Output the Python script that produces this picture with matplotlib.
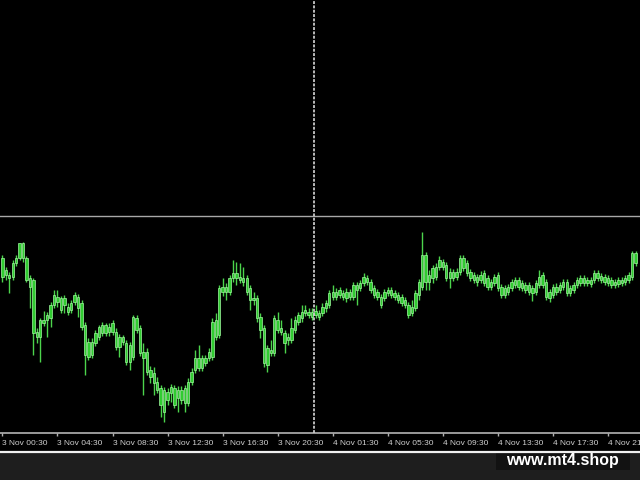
import numpy as np
import matplotlib
matplotlib.use("Agg")
import matplotlib.pyplot as plt
from matplotlib.patches import Rectangle
from matplotlib.lines import Line2D

# M15 candles, prices in points
body_hi = [182, 170, 165, 177, 182, 197, 197, 182, 162, 160, 108, 120, 120, 125, 135, 145, 143, 142, 142, 133,
           137, 145, 143, 137, 115, 98, 98, 107, 113, 115, 115, 113, 117, 108, 103, 103, 97, 95, 123, 122,
           112, 88, 88, 70, 67, 58, 52, 50, 48, 53, 52, 50, 50, 52, 58, 68, 82, 82, 82, 82,
           88, 118, 120, 152, 153, 153, 162, 167, 167, 163, 162, 162, 152, 142, 142, 123, 112, 92, 90, 122,
           120, 112, 107, 103, 112, 120, 125, 128, 130, 128, 128, 129, 127, 133, 137, 147, 148, 148, 150, 147,
           148, 148, 155, 155, 157, 163, 162, 158, 152, 148, 143, 148, 150, 150, 147, 145, 143, 140, 135, 133,
           147, 158, 185, 185, 165, 172, 173, 180, 178, 175, 168, 168, 168, 182, 182, 177, 168, 165, 163, 165,
           167, 162, 158, 163, 165, 153, 152, 153, 158, 160, 160, 157, 155, 155, 152, 157, 163, 165, 158, 148,
           153, 153, 155, 158, 158, 152, 155, 160, 162, 162, 160, 160, 167, 167, 164, 163, 162, 160, 158, 160,
           160, 162, 165, 187, 187]
body_lo = [163, 165, 162, 163, 177, 182, 182, 160, 153, 107, 103, 103, 117, 120, 122, 135, 138, 130, 135, 128,
           130, 138, 132, 113, 85, 83, 85, 97, 103, 107, 107, 108, 108, 93, 93, 98, 78, 78, 83, 110,
           87, 82, 68, 63, 57, 50, 35, 28, 40, 47, 35, 42, 40, 37, 37, 58, 70, 72, 72, 77,
           82, 83, 103, 105, 148, 148, 148, 162, 162, 160, 158, 148, 140, 140, 122, 110, 77, 75, 87, 87,
           110, 108, 97, 100, 100, 110, 118, 122, 127, 125, 123, 125, 123, 127, 132, 135, 143, 143, 145, 143,
           142, 143, 143, 150, 152, 157, 158, 150, 145, 143, 135, 142, 147, 145, 143, 140, 137, 135, 125, 127,
           132, 145, 153, 158, 158, 162, 163, 173, 173, 162, 162, 162, 163, 168, 172, 167, 162, 160, 158, 160,
           157, 153, 153, 157, 152, 145, 145, 148, 152, 155, 153, 152, 150, 148, 147, 148, 155, 155, 143, 142,
           145, 148, 150, 153, 147, 147, 150, 155, 157, 157, 157, 156, 160, 162, 160, 158, 157, 155, 155, 156,
           157, 158, 160, 163, 177]
highs = [185, 173, 168, 180, 185, 197, 198, 184, 165, 162, 112, 122, 129, 128, 138, 150, 150, 144, 145, 137,
         140, 148, 146, 140, 118, 102, 102, 110, 115, 118, 117, 117, 120, 112, 106, 105, 100, 98, 125, 125,
         115, 97, 92, 74, 73, 63, 55, 53, 52, 56, 55, 54, 54, 55, 62, 72, 90, 95, 85, 85,
         92, 122, 127, 155, 162, 157, 165, 180, 178, 177, 173, 165, 155, 148, 145, 127, 115, 95, 100, 125,
         128, 120, 110, 107, 122, 124, 128, 135, 135, 132, 132, 135, 130, 137, 140, 150, 155, 152, 153, 150,
         152, 151, 158, 158, 160, 167, 165, 161, 155, 151, 146, 151, 153, 153, 150, 148, 146, 143, 138, 140,
         150, 161, 208, 188, 170, 175, 177, 184, 181, 178, 172, 171, 172, 185, 185, 180, 171, 168, 166, 169,
         170, 165, 161, 166, 168, 156, 155, 156, 161, 163, 163, 160, 158, 158, 155, 160, 170, 168, 161, 151,
         156, 157, 158, 161, 161, 155, 158, 163, 165, 165, 163, 163, 170, 170, 167, 166, 165, 163, 161, 163,
         163, 165, 168, 189, 189]
lows = [158, 160, 147, 160, 174, 180, 178, 158, 132, 85, 97, 78, 114, 103, 113, 132, 133, 127, 127, 125,
        127, 135, 123, 110, 65, 80, 82, 94, 100, 104, 104, 104, 105, 90, 83, 95, 75, 70, 80, 107,
        84, 45, 65, 57, 45, 47, 23, 18, 35, 38, 32, 28, 36, 28, 34, 55, 67, 69, 69, 74,
        79, 80, 100, 102, 144, 140, 145, 158, 155, 157, 154, 145, 130, 135, 118, 102, 73, 68, 84, 84,
        107, 105, 87, 95, 97, 107, 115, 118, 124, 122, 120, 122, 120, 124, 128, 132, 140, 140, 142, 140,
        138, 140, 140, 135, 149, 154, 155, 147, 142, 140, 132, 139, 144, 142, 140, 137, 134, 132, 122, 124,
        129, 140, 150, 150, 150, 157, 160, 170, 170, 159, 152, 159, 160, 165, 169, 164, 159, 157, 154, 157,
        154, 150, 150, 154, 149, 142, 142, 145, 149, 152, 150, 149, 147, 145, 139, 145, 152, 152, 140, 138,
        142, 145, 147, 150, 144, 144, 147, 152, 154, 154, 154, 153, 157, 159, 157, 155, 154, 152, 152, 153,
        154, 155, 157, 160, 174]

tick_labels = ["3 Nov 00:30", "3 Nov 04:30", "3 Nov 08:30", "3 Nov 12:30", "3 Nov 16:30", "3 Nov 20:30",
               "4 Nov 01:30", "4 Nov 05:30", "4 Nov 09:30", "4 Nov 13:30", "4 Nov 17:30", "4 Nov 21:30"]
bars_per_tick = 16

crosshair_bar = 90.5
crosshair_price = 224

plt.rcParams['font.family'] = ['Liberation Sans', 'DejaVu Sans']

fig = plt.figure(figsize=(6.4, 4.8), dpi=100, facecolor='black')
ax = fig.add_axes([0, 47 / 480, 1, 433 / 480])
ax.set_facecolor('black')

x = np.arange(len(body_hi))
hi = np.array(body_hi)
lo = np.array(body_lo)
ax.vlines(x, lows, highs, color='#4cd44c', linewidth=1.0, zorder=2)
ax.bar(x, np.maximum(hi - lo, 1.2), bottom=lo, width=0.7, color='#30cc30',
       edgecolor='#a0f5a0', linewidth=0.5, zorder=3)

# crosshair
ax.axhline(crosshair_price, color='#a8a8a8', linewidth=1.0, zorder=4)
ax.axvline(crosshair_bar, color='#c8c8c8', linewidth=1.3, linestyle=(0, (1.6, 0.8)), zorder=4)

ax.set_xlim(-0.7, 185.3)
ax.set_ylim(7, 440)

ticks = np.arange(len(tick_labels)) * bars_per_tick
ax.set_xticks(ticks)
ax.set_xticklabels(tick_labels, ha='left', fontsize=6.0, color='#d0d0d0')
ax.tick_params(axis='x', direction='out', length=2.5, width=1, color='#b0b0b0', pad=2.3)
ax.set_yticks([])
for s in ['top', 'left', 'right']:
    ax.spines[s].set_visible(False)
ax.spines['bottom'].set_color('#b4b4b4')
ax.spines['bottom'].set_linewidth(1.2)

# bottom status strip
fig.patches.append(Rectangle((0, 0), 1, 28 / 480, transform=fig.transFigure,
                             facecolor='#1e1e1e', edgecolor='none', zorder=0))
fig.lines.append(Line2D([0, 1], [28.5 / 480, 28.5 / 480], transform=fig.transFigure,
                        color='#f0f0f0', linewidth=1.6))
fig.patches.append(Rectangle((496 / 640, 10 / 480), 134 / 640, 19 / 480, transform=fig.transFigure,
                             facecolor='#121212', edgecolor='none', zorder=1))
fig.text(562 / 640, 20 / 480, "www.mt4.shop", color='white', fontsize=11.5, fontweight='bold',
         ha='center', va='center', zorder=2)

fig.savefig("out.png", dpi=100, facecolor=fig.get_facecolor())
